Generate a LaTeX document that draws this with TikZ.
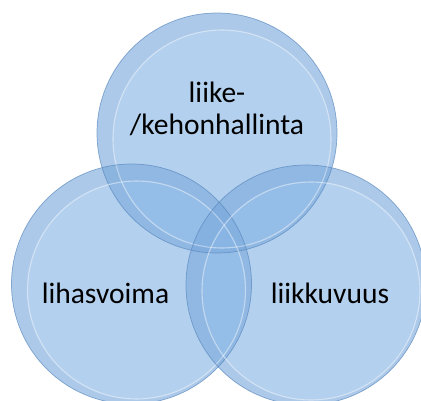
\documentclass[tikz,border=0pt]{standalone}
\usepackage{fontspec}
\setmainfont{Carlito}

\definecolor{bubbleblue}{RGB}{128,176,226}
\definecolor{rimblue}{RGB}{90,135,188}

\tikzset{
	bubble/.style={fill=bubbleblue, fill opacity=0.6},
	bevel/.style={fill=rimblue, fill opacity=0.08, even odd rule},
	rim/.style={draw=rimblue, draw opacity=0.7, line width=0.5pt},
	shine/.style={draw=white, draw opacity=0.45, line width=0.8pt},
	bubbletext/.style={font=\fontsize{21}{22.5}\selectfont, align=center, text=black}
}

\begin{document}
\begin{tikzpicture}[x=0.025cm, y=-0.025cm]
	\clip (0,0) rectangle (421,401);
	\coordinate (top) at (217,133);
	\coordinate (left) at (131.5,284);
	\coordinate (right) at (306,285);
	\foreach \c in {top,left,right}{
		\fill[bubble] (\c) circle [radius=120];
	}
	\foreach \c in {top,left,right}{
		\fill[bevel] (\c) circle [radius=120] ++(5,6) circle [radius=109];
		\draw[shine] (\c) ++(5,6) circle [radius=109];
		\draw[rim] (\c) circle [radius=120];
	}
	\node[bubbletext] (kehon) at (217,109) {liike-\\/kehonhallinta};
	\node[bubbletext] (lihas) at (105.5,293) {lihasvoima};
	\node[bubbletext] (liikku) at (330,293) {liikkuvuus};
\end{tikzpicture}
\end{document}
